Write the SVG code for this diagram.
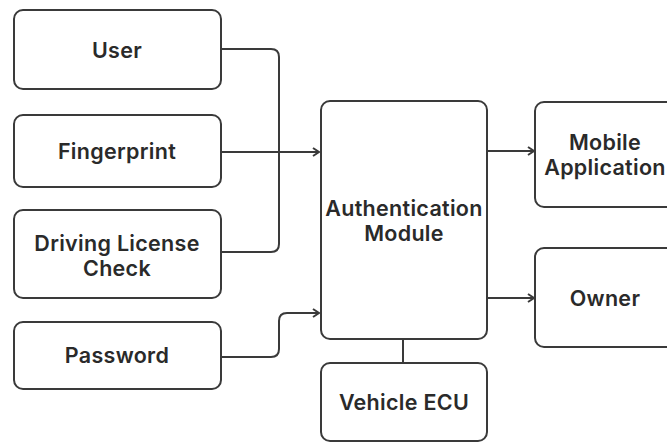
<svg xmlns="http://www.w3.org/2000/svg" width="667" height="443" viewBox="0 0 667 443">
<style>
.box{fill:#fff;stroke:#3a3a3a;stroke-width:2}
.t{font-family:Inter,"Noto Sans",sans-serif;font-weight:600;font-size:21.5px;letter-spacing:0.3px;fill:#2a2a2a;text-anchor:middle;dominant-baseline:central}
.c{fill:none;stroke:#3a3a3a;stroke-width:2}
</style>
<defs>
<marker id="ah" markerWidth="10" markerHeight="10" refX="8" refY="5" orient="auto" markerUnits="userSpaceOnUse">
<path d="M2,1 L8,5 L2,9" fill="none" stroke="#3a3a3a" stroke-width="2"/>
</marker>
</defs>
<rect width="667" height="443" fill="#fff"/>
<g id="connectors">
<path class="c" d="M221,49 H271 Q279,49 279,57 V244 Q279,252 271,252 H221"/>
<path class="c" d="M221,152 H319" marker-end="url(#ah)"/>
<path class="c" d="M221,357 H271 Q279,357 279,349 V321 Q279,313 287,313 H319" marker-end="url(#ah)"/>
<path class="c" d="M487,151 H534" marker-end="url(#ah)"/>
<path class="c" d="M487,298 H534" marker-end="url(#ah)"/>
<path class="c" d="M403,339 V363"/>
</g>
<g id="user"><rect class="box" x="14" y="10" width="207" height="79" rx="9"/><text class="t" x="117" y="50">User</text></g>
<g id="fingerprint"><rect class="box" x="14" y="115" width="207" height="72" rx="9"/><text class="t" x="117" y="151">Fingerprint</text></g>
<g id="license"><rect class="box" x="14" y="210" width="207" height="88" rx="9"/><text class="t" x="117" y="243">Driving License</text><text class="t" x="117" y="268">Check</text></g>
<g id="password"><rect class="box" x="14" y="322" width="207" height="67" rx="9"/><text class="t" x="117" y="355">Password</text></g>
<g id="auth"><rect class="box" x="321" y="101" width="166" height="238" rx="9"/><text class="t" x="404" y="208">Authentication</text><text class="t" x="404" y="233">Module</text></g>
<g id="mobile"><rect class="box" x="535" y="102" width="145" height="105" rx="9"/><text class="t" x="605" y="142">Mobile</text><text class="t" x="605" y="167">Application</text></g>
<g id="owner"><rect class="box" x="535" y="248" width="145" height="99" rx="9"/><text class="t" x="605" y="298">Owner</text></g>
<g id="ecu"><rect class="box" x="321" y="363" width="166" height="78" rx="9"/><text class="t" x="404" y="402">Vehicle ECU</text></g>
</svg>
